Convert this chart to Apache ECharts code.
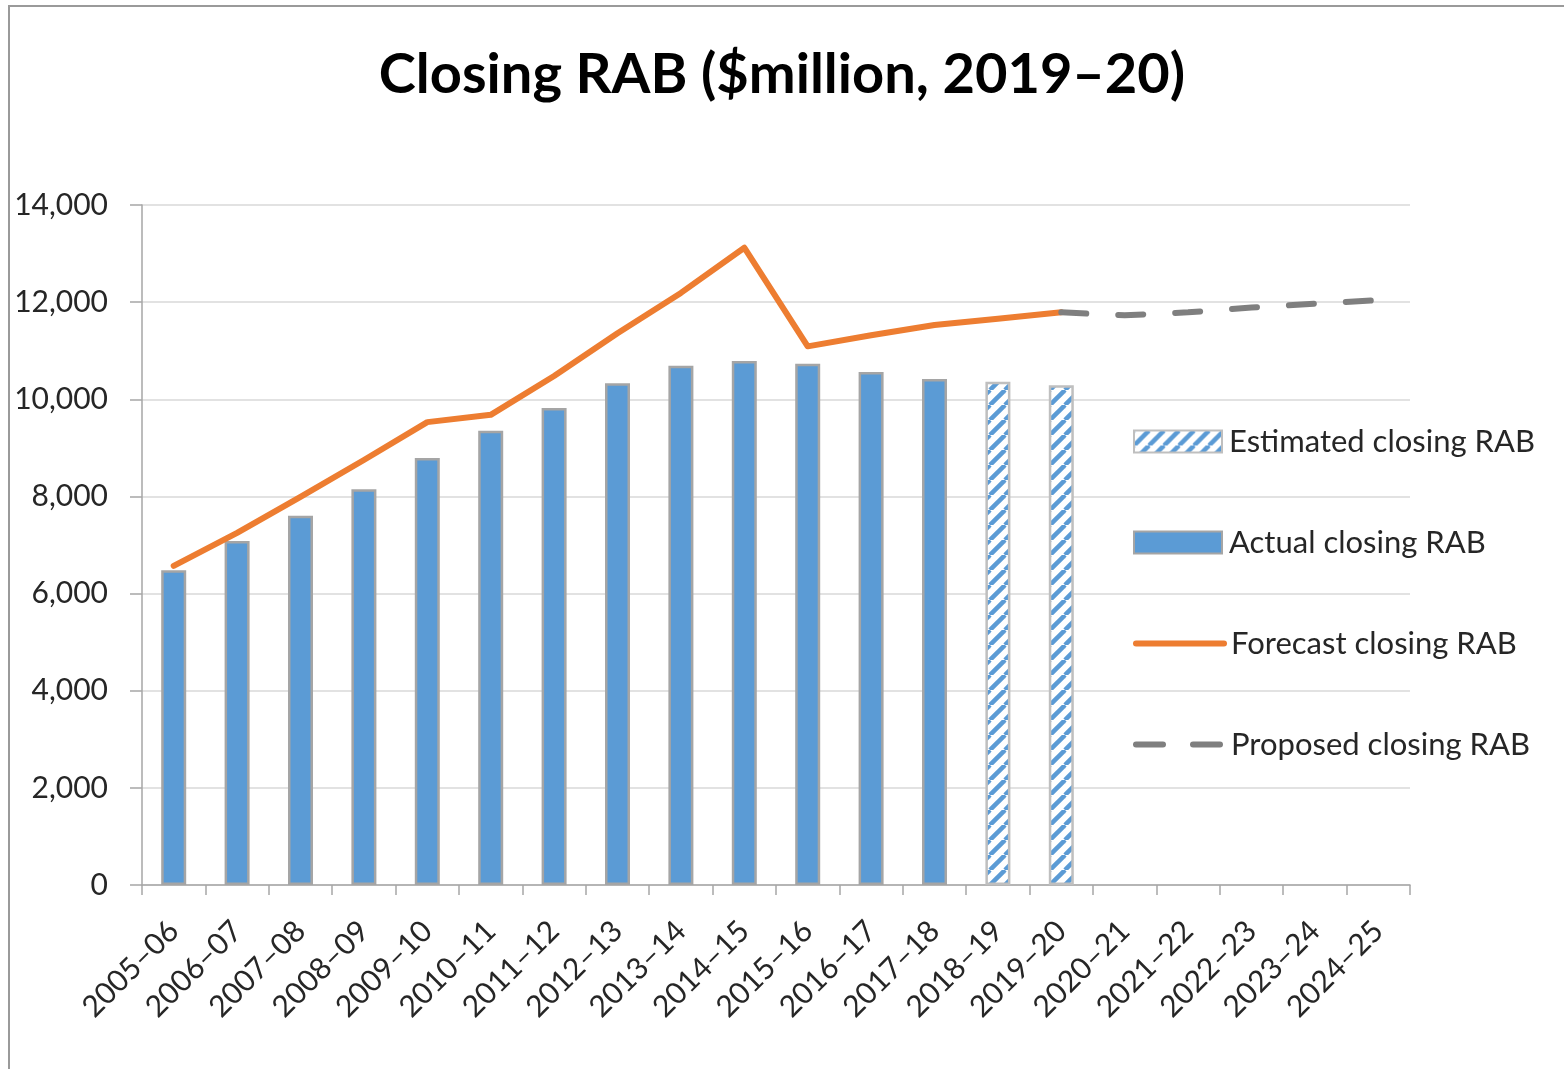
<!DOCTYPE html>
<html>
<head>
<meta charset="utf-8">
<script src="https://cdn.jsdelivr.net/npm/echarts@6/dist/echarts.min.js"></script>
<style>
html,body{margin:0;padding:0;background:#fff;}
#chart{width:1564px;height:1069px;}
</style>
</head>
<body>
<div id="chart"></div>
<script>
const categories = ['2005–06','2006–07','2007–08','2008–09','2009–10','2010–11','2011–12','2012–13','2013–14','2014–15','2015–16','2016–17','2017–18','2018–19','2019–20','2020–21','2021–22','2022–23','2023–24','2024–25'];
const actualRAB = [6480, 7080, 7600, 8150, 8790, 9350, 9820, 10330, 10690, 10790, 10730, 10560, 10420, null, null, null, null, null, null, null];
const estimatedRAB = [null, null, null, null, null, null, null, null, null, null, null, null, null, 10360, 10290, null, null, null, null, null];
const forecastRAB = [6570, 7250, 7990, 8750, 9530, 9680, 10480, 11360, 12190, 13120, 11090, 11320, 11530, 11660, 11790, null, null, null, null, null];
const proposedRAB = [null, null, null, null, null, null, null, null, null, null, null, null, null, null, 11790, 11730, 11790, 11890, 11970, 12040];
const yTicks = [0, 2000, 4000, 6000, 8000, 10000, 12000, 14000];

const FONT = 'Lato';
const BLUE = '#5B9BD5';
const ORANGE = '#ED7D31';
const GREY = '#7F7F7F';

// hatch pattern for estimated bars
const T = 15;
const tile = document.createElement('canvas');
tile.width = T; tile.height = T;
const tctx = tile.getContext('2d');
tctx.fillStyle = '#ffffff';
tctx.fillRect(0, 0, T, T);
tctx.strokeStyle = BLUE;
tctx.lineWidth = 4.5;
for (const k of [-T, 0, T]) {
  tctx.beginPath();
  tctx.moveTo(k, T);
  tctx.lineTo(k + T, 0);
  tctx.stroke();
}

const chart = echarts.init(document.getElementById('chart'), null, {renderer: 'canvas'});

function legendAt(name, top, extra) {
  return Object.assign({
    data: [name],
    left: 1133,
    top: top,
    itemWidth: 88,
    itemHeight: 22,
    itemGap: 0,
    padding: 0,
    selectedMode: false,
    textStyle: {fontFamily: FONT, fontSize: 31, color: '#262626', padding: [0, 0, 0, 2]}
  }, extra || {});
}

const hiddenSymbol = {color: 'rgba(0,0,0,0)', borderColor: 'rgba(0,0,0,0)', borderWidth: 0};

const option = {
  backgroundColor: '#ffffff',
  animation: false,
  title: {
    text: 'Closing RAB ($million, 2019–20)',
    left: 'center',
    top: 42,
    textStyle: {fontFamily: FONT, fontWeight: 'bold', fontSize: 56, color: '#000'}
  },
  graphic: [{
    type: 'rect',
    shape: {x: 9, y: 6, width: 1700, height: 1200},
    style: {fill: 'none', stroke: '#9a9a9a', lineWidth: 2},
    silent: true
  }],
  legend: [
    legendAt('Estimated closing RAB', 426, {icon: 'rect'}),
    legendAt('Actual closing RAB', 527, {icon: 'rect'}),
    legendAt('Forecast closing RAB', 628, {itemStyle: hiddenSymbol, lineStyle: {width: 6, type: 'solid', cap: 'round', color: ORANGE}}),
    legendAt('Proposed closing RAB', 729, {itemStyle: hiddenSymbol, lineStyle: {width: 6, type: [27, 30], cap: 'round', color: GREY}})
  ],
  grid: {left: 142, right: 154, top: 205, bottom: 184, containLabel: false},
  xAxis: {
    type: 'category',
    data: categories,
    boundaryGap: true,
    axisLine: {show: true, lineStyle: {color: '#A6A6A6', width: 1.5}},
    axisTick: {show: true, length: 10, alignWithLabel: false, lineStyle: {color: '#A6A6A6', width: 1.5}},
    axisLabel: {
      interval: 0,
      rotate: 45,
      margin: 41,
      fontFamily: FONT,
      fontSize: 30,
      color: '#262626'
    },
    splitLine: {show: false}
  },
  yAxis: {
    type: 'value',
    min: yTicks[0],
    max: yTicks[yTicks.length - 1],
    interval: 2000,
    axisLine: {show: true, lineStyle: {color: '#A6A6A6', width: 1.5}},
    axisTick: {show: true, length: 12, inside: false, lineStyle: {color: '#A6A6A6', width: 1.5}},
    axisLabel: {
      margin: 34,
      fontFamily: FONT,
      fontSize: 30,
      color: '#262626',
      formatter: v => v.toLocaleString('en-US')
    },
    splitLine: {show: true, lineStyle: {color: '#D9D9D9', width: 1.5}}
  },
  series: [
    {
      name: 'Estimated closing RAB',
      type: 'bar',
      data: estimatedRAB,
      barWidth: 25,
      barGap: '-100%',
      itemStyle: {color: {image: tile, repeat: 'repeat'}, borderColor: '#BFBFBF', borderWidth: 2.5},
      z: 2
    },
    {
      name: 'Actual closing RAB',
      type: 'bar',
      data: actualRAB,
      barWidth: 25,
      barGap: '-100%',
      itemStyle: {color: BLUE, borderColor: '#A5A5A5', borderWidth: 2.5},
      z: 2
    },
    {
      name: 'Forecast closing RAB',
      type: 'line',
      data: forecastRAB,
      symbol: 'none',
      connectNulls: false,
      lineStyle: {color: ORANGE, width: 6, cap: 'round', join: 'round'},
      itemStyle: {color: ORANGE},
      z: 3
    },
    {
      name: 'Proposed closing RAB',
      type: 'line',
      data: proposedRAB,
      symbol: 'none',
      connectNulls: false,
      lineStyle: {color: GREY, width: 6, type: [25, 32], cap: 'round', join: 'round'},
      itemStyle: {color: GREY},
      z: 4
    }
  ]
};

chart.setOption(option);
</script>
</body>
</html>
